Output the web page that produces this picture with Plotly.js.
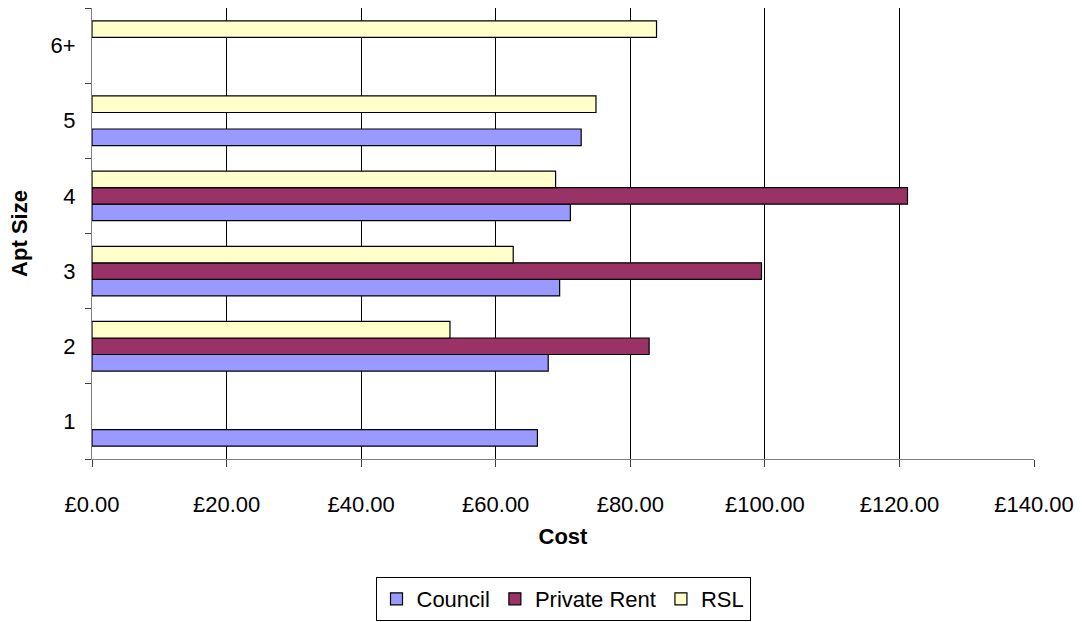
<!DOCTYPE html>
<html>
<head>
<meta charset="utf-8">
<script src="https://cdn.plot.ly/plotly-3.0.1.min.js"></script>
<style>html,body{margin:0;padding:0;background:#fff;}#chart{width:1082px;height:622px;}</style>
</head>
<body>
<div id="chart"></div>
<script>
const categories = ['1', '2', '3', '4', '5', '6+'];
const council = [66.2, 67.8, 69.5, 71.1, 72.7, null];
const privateRent = [null, 82.8, 99.5, 121.2, null, null];
const rsl = [null, 53.2, 62.6, 68.9, 74.9, 83.9];
const seriesNames = ['Council', 'Private Rent', 'RSL'];
const seriesColors = ['#9999FF', '#993366', '#FFFFCC'];
const xTicks = [0, 20, 40, 60, 80, 100, 120, 140];
const xTickLabels = ['\u00a30.00', '\u00a320.00', '\u00a340.00', '\u00a360.00', '\u00a380.00', '\u00a3100.00', '\u00a3120.00', '\u00a3140.00'];

const FONT = 'Liberation Sans, Arial, sans-serif';
const data = [council, privateRent, rsl].map((vals, i) => ({
  type: 'bar',
  orientation: 'h',
  name: seriesNames[i],
  y: categories,
  x: vals,
  marker: { color: seriesColors[i], line: { color: '#000000', width: 1.2 } },
  hoverinfo: 'x+name'
}));

const layout = {
  width: 1082, height: 622,
  margin: { l: 92, r: 48, t: 8, b: 163 },
  paper_bgcolor: '#ffffff', plot_bgcolor: '#ffffff',
  font: { family: FONT, size: 22, color: '#000000' },
  barmode: 'group',
  bargap: 0.34,
  bargroupgap: 0,
  xaxis: {
    range: [0, 140],
    tickmode: 'array',
    tickvals: xTicks,
    ticktext: xTickLabels,
    showgrid: true, gridcolor: '#000000', gridwidth: 1,
    zeroline: false,
    showline: true, linecolor: '#808080', linewidth: 1,
    ticks: 'outside', ticklen: 7, tickcolor: '#404040',
    ticklabelstandoff: 19,
    tickfont: { family: FONT, size: 22 },
    title: { text: '<b>Cost</b>', font: { family: FONT, size: 22 }, standoff: 12 },
    automargin: false,
    fixedrange: true
  },
  yaxis: {
    type: 'category',
    categoryorder: 'array',
    categoryarray: categories,
    tickson: 'boundaries',
    showgrid: false,
    zeroline: false,
    showline: true, linecolor: '#808080', linewidth: 1,
    ticks: 'outside', ticklen: 6, tickcolor: '#404040',
    ticklabelstandoff: 11,
    tickfont: { family: FONT, size: 22 },
    title: { text: '<b>Apt Size</b>', font: { family: FONT, size: 22 }, standoff: 16 },
    automargin: false,
    fixedrange: true
  },
  showlegend: true,
  legend: {
    orientation: 'h',
    xref: 'paper', x: 0.5, xanchor: 'center',
    yref: 'container', y: (622 - 577) / 622, yanchor: 'top',
    bordercolor: '#000000', borderwidth: 1,
    font: { family: FONT, size: 22 },
    itemwidth: 30,
    traceorder: 'normal'
  }
};

Plotly.newPlot('chart', data, layout, { displayModeBar: false, staticPlot: true });
</script>
</body>
</html>
